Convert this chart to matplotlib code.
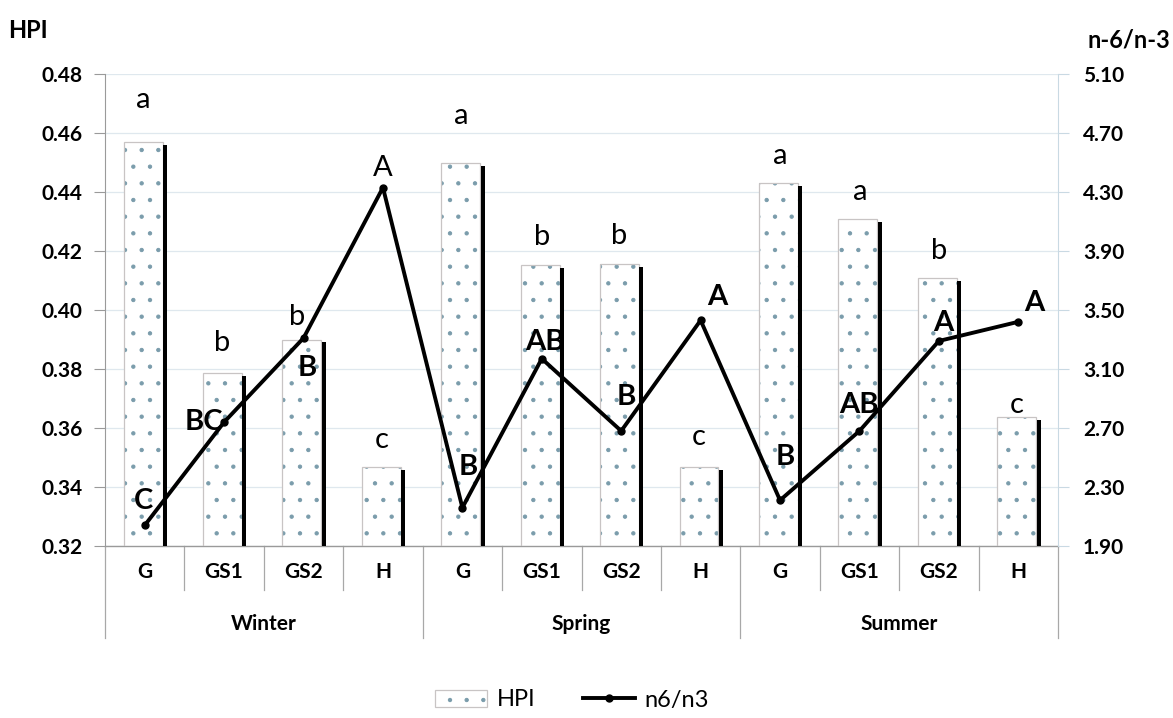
import numpy as np
import matplotlib
matplotlib.use('Agg')
import matplotlib.pyplot as plt
from matplotlib.patches import Patch
from matplotlib.lines import Line2D

plt.rcParams['font.family'] = ['Lato', 'DejaVu Sans']
plt.rcParams['hatch.linewidth'] = 0.7

seasons = ['Winter', 'Spring', 'Summer']
groups = ['G', 'GS1', 'GS2', 'H']

hpi = [0.457, 0.3786, 0.390, 0.3468,
       0.4498, 0.4153, 0.4155, 0.3468,
       0.4431, 0.4308, 0.4108, 0.3636]
n6n3 = [2.04, 2.74, 3.31, 4.33,
        2.16, 3.17, 2.68, 3.43,
        2.21, 2.68, 3.29, 3.42]

hpi_letters = ['a', 'b', 'b', 'c', 'a', 'b', 'b', 'c', 'a', 'a', 'b', 'c']
ratio_letters = ['C', 'BC', 'B', 'A', 'B', 'AB', 'B', 'A', 'B', 'AB', 'A', 'A']
ratio_bold = [True, True, True, False, True, True, True, True, True, True, True, True]

# label offsets in pixels (dx, dy up)
hpi_off = [(0, 42), (0, 30), (-5, 23), (0, 27), (0, 47), (2, 28), (0, 28), (0, 30),
           (2, 27), (2, 27), (2, 27), (0, 12)]
ratio_off = [(-1, 24), (-20, 0), (4, -30), (0, 20), (6, 41), (3, 17), (5, 34), (17, 23),
             (5, 43), (-1, 26), (4, 18), (16, 19)]

fig = plt.figure(figsize=(11.73, 7.18), dpi=100)
ax = fig.add_axes([105 / 1173, 1 - 546 / 718, (1058 - 105) / 1173, (546 - 74) / 718])
ax2 = ax.twinx()

x = np.arange(len(hpi))
dotc = '#7a9cab'
edgec = '#c8c4c4'
ax.bar(x - 0.02, hpi, width=0.49, color='white', edgecolor=dotc, hatch='.', linewidth=0, zorder=2)
ax.bar(x - 0.02, hpi, width=0.49, fill=False, edgecolor=edgec, linewidth=0.9, zorder=3)
ax.bar(x + 0.255, np.array(hpi) - 0.001, width=0.05, color='black', linewidth=0, zorder=3)

ax.set_ylim(0.32, 0.48)
ax.set_yticks(np.arange(0.32, 0.481, 0.02))
ax.set_yticklabels(['%.2f' % v for v in np.arange(0.32, 0.481, 0.02)], fontsize=15, fontweight='bold')
ax.set_xlim(-0.5, len(hpi) - 0.5)
ax.grid(axis='y', color='#dfe8ee', linewidth=0.9, zorder=0)
ax.set_axisbelow(True)
ax.set_xticks([])

ax2.plot(x, n6n3, color='black', linewidth=2.8, marker='o', markersize=5, zorder=5)
ax2.set_ylim(1.90, 5.10)
ax2.set_yticks(np.arange(1.90, 5.11, 0.4))
ax2.set_yticklabels(['%.2f' % v for v in np.arange(1.90, 5.11, 0.4)], fontsize=15, fontweight='bold')

for a in (ax, ax2):
    a.spines['top'].set_visible(False)
    a.spines['bottom'].set_visible(False)
ax.spines['left'].set_color('#9a9a9a')
ax.spines['right'].set_visible(False)
ax2.spines['left'].set_visible(False)
ax2.spines['right'].set_color('#c9d9e3')
ax.tick_params(axis='y', length=8, color='#9a9a9a', pad=8)
ax2.tick_params(axis='y', length=8, color='#c9d9e3', pad=10)

for i in range(len(hpi)):
    ax.annotate(hpi_letters[i], (x[i] - 0.02, hpi[i]), xytext=(hpi_off[i][0] * 0.72, hpi_off[i][1] * 0.72),
                textcoords='offset points', ha='center', va='center', fontsize=21, zorder=6)
    ax2.annotate(ratio_letters[i], (x[i], n6n3[i]), xytext=(ratio_off[i][0] * 0.72, ratio_off[i][1] * 0.72),
                 textcoords='offset points', ha='center', va='center', fontsize=21,
                 fontweight='bold' if ratio_bold[i] else 'normal', zorder=6)

# two-level category axis
tr = ax.get_xaxis_transform()
ah = 472.0
line_c = '#a8a8a8'
for i in range(len(hpi) + 1):
    b = i - 0.5
    depth = 92 if i % len(groups) == 0 else 44
    ax.plot([b, b], [0, -depth / ah], transform=tr, color=line_c, linewidth=0.9, clip_on=False)
ax.plot([-0.5, len(hpi) - 0.5], [0, 0], transform=tr, color='#9a9a9a', linewidth=1, clip_on=False)
for i in range(len(hpi)):
    ax.text(x[i], -26 / ah, groups[i % len(groups)], transform=tr, ha='center', va='center',
            fontsize=15, fontweight='bold')
for j, s in enumerate(seasons):
    ax.text(j * len(groups) + (len(groups) - 1) / 2, -78 / ah, s, transform=tr, ha='center', va='center',
            fontsize=15, fontweight='bold')

fig.text(8 / 1173, 1 - 31 / 718, 'HPI', fontsize=17, fontweight='bold', ha='left', va='center')
fig.text(1170 / 1173, 1 - 40 / 718, 'n-6/n-3', fontsize=17, fontweight='bold', ha='right', va='center')

hpi_handle = (Patch(facecolor='white', edgecolor=dotc, hatch='.', linewidth=0),
              Patch(fill=False, edgecolor=edgec, linewidth=0.9))
handles = [hpi_handle, Line2D([0], [0], color='black', linewidth=2.8, marker='o', markersize=5)]
leg = fig.legend(handles, ['HPI', 'n6/n3'], loc='center', bbox_to_anchor=(572 / 1173, 1 - 700 / 718),
                 ncol=2, frameon=False, fontsize=17, handlelength=2.2, columnspacing=2.0, handletextpad=0.4)

fig.savefig('out.png', dpi=100)
